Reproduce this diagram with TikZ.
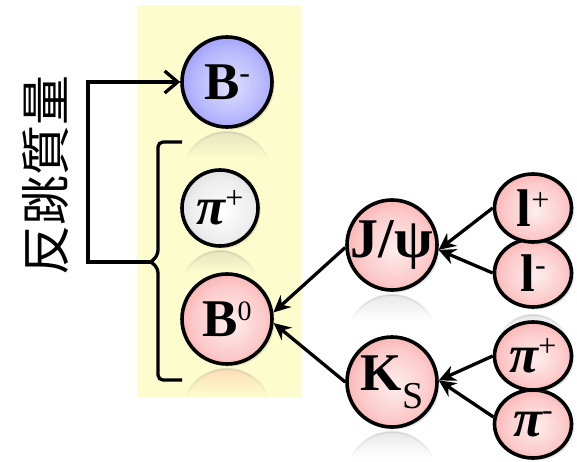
\documentclass[tikz,border=0pt]{standalone}
\usepackage{fontspec}
\setmainfont{Liberation Serif}
\newfontfamily\cjk{Noto Sans CJK JP}
\usepackage{tikz}
\usetikzlibrary{arrows.meta,positioning,calc,shadows,fadings,backgrounds,shapes.geometric}
\definecolor{bgyellow}{RGB}{253,252,204}
\definecolor{ballblue}{RGB}{80,80,250}
\definecolor{ballred}{RGB}{245,85,85}
\definecolor{ballgray}{RGB}{135,135,135}
\pgfdeclareradialshading{blueball}{\pgfpoint{2bp}{-2bp}}{color(0bp)=(ballblue!18); color(20bp)=(ballblue!42); color(40bp)=(ballblue!78); color(50bp)=(ballblue)}
\pgfdeclareradialshading{redball}{\pgfpoint{2bp}{-2bp}}{color(0bp)=(ballred!10); color(20bp)=(ballred!32); color(40bp)=(ballred!68); color(50bp)=(ballred)}
\pgfdeclareradialshading{grayball}{\pgfpoint{2bp}{-2bp}}{color(0bp)=(white); color(20bp)=(ballgray!15); color(40bp)=(ballgray!48); color(50bp)=(ballgray)}
\newcommand{\ctext}[1]{\makebox[0pt]{#1}}
\newcommand{\sups}[1]{\raisebox{16pt}{\fontsize{32}{32}\selectfont\mdseries #1}}
\newcommand{\subs}[1]{\raisebox{-18pt}{\fontsize{38}{38}\selectfont\mdseries #1}}
% faint mirror image under a ball: node, radius, colour
\newcommand{\mirror}[3]{%
  \fill[#3, opacity=0.22, path fading=south]
    ($(#1.center)+(0,-2*#2-5)+(25:#2)$) arc[start angle=25, end angle=155, radius=#2] -- cycle;
  \draw[black!45, opacity=0.3, line width=2pt, path fading=south]
    ($(#1.center)+(0,-2*#2-5)+(25:#2)$) arc[start angle=25, end angle=155, radius=#2];}

\begin{document}
\begin{tikzpicture}[x=1pt, y=1pt,
  ball/.style={circle, draw, line width=3.6pt, inner sep=0pt, minimum size=90pt,
    font=\bfseries\fontsize{53}{53}\selectfont,
    drop shadow={shadow xshift=2.5pt, shadow yshift=-2.5pt, opacity=0.2}},
  smallball/.style={ball, ellipse, minimum width=77pt, minimum height=68pt},
  arr/.style={-{Stealth[length=17pt, width=16pt]}, line width=3.3pt},
  link/.style={line width=3.3pt},
  lab/.style={font=\cjk\fontsize{50}{50}\selectfont, rotate=90}]
\useasboundingbox (0,0) rectangle (577,461);
% left column
\node[ball, shading=blueball] (bminus) at (227,379) {\ctext{B\sups{-}}};
\node[ball, shading=grayball, minimum size=76pt] (pionL) at (220,253) {\ctext{\itshape π\sups{\upshape +}}};
\node[ball, shading=redball] (bzero) at (227,142) {\ctext{B\sups{\fontsize{28}{28}\selectfont 0}}};
% daughters
\node[ball, shading=redball] (jpsi) at (392,216) {\ctext{\fontsize{56}{56}\selectfont J/ψ}};
\node[ball, shading=redball] (kshort) at (392,79) {\ctext{K\subs{S}}};
\node[smallball, shading=redball] (lminus) at (533,188) {\ctext{l\sups{-}}};
\node[smallball, shading=redball] (lplus) at (533,253) {\ctext{l\sups{+}}};
\node[smallball, shading=redball] (piminus) at (533,37) {\ctext{\itshape π\sups{\upshape -}}};
\node[smallball, shading=redball] (piplus) at (533,105) {\ctext{\itshape π\sups{\upshape +}}};
\node[lab] (title) at (46,286) {反跳質量};
% decay arrows
\draw[arr] (jpsi.183) -- (bzero.8);
\draw[arr] (kshort.west) -- (bzero.-5);
\foreach \a in {lplus,lminus} \draw[arr] (\a.west) -- (jpsi.-6);
\draw[arr] (piplus.west) -- (kshort.2);
\draw[arr] (piminus.170) -- (kshort.2);
% brace and recoil line
\coordinate (brtop) at (182,319);
\coordinate (brbot) at (182,81);
\coordinate (cusp) at (151,199);
\coordinate (turn) at (88,199);
\draw[link, rounded corners=5pt] (brtop) -- ++(-24,0) -- ++(0,-113) -- (cusp);
\draw[link, rounded corners=5pt] (cusp) -- ++(7,-6) -- ++(0,-112) -- (brbot);
\draw[link, -{Straight Barb[length=13pt, width=22pt]}] (cusp) -- (turn) |- (bminus);
\begin{scope}[on background layer]
\fill[bgyellow] (137,64) rectangle (301,456);
\mirror{bminus}{45}{gray}
\mirror{pionL}{38}{gray}
\mirror{bzero}{45}{ballred}
\mirror{jpsi}{45}{gray}
\mirror{lminus}{37}{gray}
\mirror{kshort}{45}{gray}
\end{scope}
\end{tikzpicture}
\end{document}
